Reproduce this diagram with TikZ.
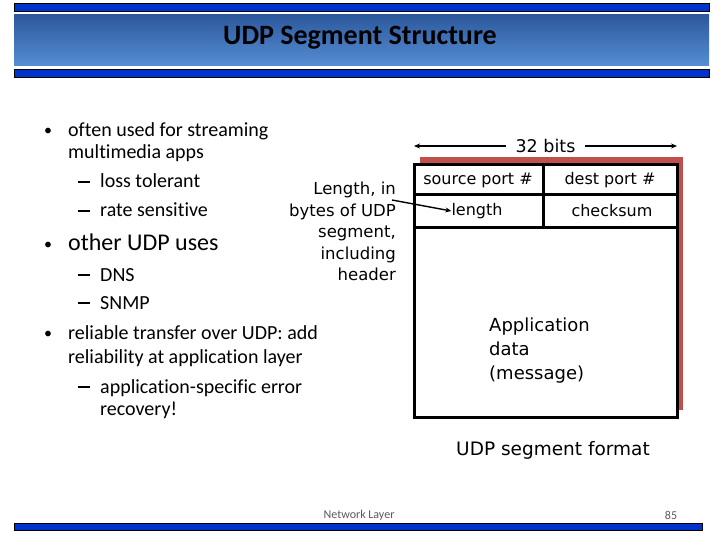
\documentclass[tikz,border=0pt]{standalone}
\usepackage{fontspec}
\setmainfont[Ligatures={NoCommon}]{Carlito}
\newfontfamily\comicfont{DejaVu Sans}
\usetikzlibrary{arrows.meta,positioning}
\definecolor{bandblue}{RGB}{0,51,204}
\definecolor{headtop}{RGB}{44,88,156}
\definecolor{headbot}{RGB}{86,142,212}
\definecolor{shadowred}{RGB}{192,80,77}
\definecolor{footgray}{RGB}{90,90,90}
\newcommand{\bul}{\makebox[24pt][l]{\raisebox{1pt}{\fontsize{16}{16}\selectfont•}}}
\newcommand{\dsh}{\makebox[22pt][l]{\rule[5.2pt]{12pt}{1.7pt}}}

\begin{document}
\begin{tikzpicture}[x=1pt,y=-1pt,
  >={Stealth[length=6pt,width=5pt]},
  band/.style={draw=black,fill=bandblue,line width=0.8pt},
  item/.style={anchor=base west,font=\fontsize{20}{24}\selectfont,inner sep=0pt},
  bigitem/.style={anchor=base west,font=\fontsize{24}{26}\selectfont,inner sep=0pt},
  field/.style={font=\comicfont\fontsize{16}{18}\selectfont,inner sep=0pt},
  note/.style={font=\comicfont\fontsize{16.5}{21.5}\selectfont,align=right,inner sep=0pt},
  foot/.style={font=\fontsize{12}{14}\selectfont,text=footgray,inner sep=0pt},
  frame/.style={line width=3pt}
]
\useasboundingbox (0,0) rectangle (720,540);
\fill[white] (0,0) rectangle (720,540);

% header
\draw[band] (14,3) rectangle (709,11);
\shade[top color=headtop,bottom color=headbot] (14,15) rectangle (709,66);
\draw[band] (14,69) rectangle (709,77);
\node[font=\fontsize{28}{30}\selectfont\bfseries] (title) at (360,38) {UDP Segment Structure};

% bullets on the left
\node[item] (t1) at (44,137) {\bul often used for streaming};
\node[item] (t1b) at (68,159) {multimedia apps};
\node[item] (s1) at (78,188) {\dsh loss tolerant};
\node[item] (s2) at (78,217) {\dsh rate sensitive};
\node[bigitem] (t2) at (44,250) {\bul other UDP uses};
\node[item] (s3) at (78,281) {\dsh DNS};
\node[item] (s4) at (78,309) {\dsh SNMP};
\node[item] (t3) at (44,339) {\bul reliable transfer over UDP: add};
\node[item] (t3b) at (68,363) {reliability at application layer};
\node[item] (s5) at (78,393) {\dsh application-specific error};
\node[item] (s5b) at (100,415) {recovery!};

% segment layout
\fill[shadowred] (420,157) rectangle (683,410);
\fill[white] (414,165) rectangle (677,417);
\draw[frame] (414,165) rectangle (677,417);
\draw[frame] (414,195) -- (677,195);
\draw[frame] (414,228) -- (677,228);
\draw[frame] (543,165) -- (543,228);

\node[field] (src) at (478,180) {source port \#};
\node[field] (dst) at (610,180) {dest port \#};
\node[field] (len) at (477,211) {length};
\node[field] (chk) at (612,211) {checksum};
\node[field,font=\comicfont\fontsize{18}{24}\selectfont,align=left,anchor=west] (msg) at (489,351) {Application\\data\\(message)};

\coordinate (wl) at (414,146);
\coordinate (wr) at (677,146);
\draw[<->,line width=1.6pt] (wl) -- (wr) node[midway,field,fill=white,inner xsep=10pt,font=\comicfont\fontsize{17.5}{19}\selectfont] (bits) {32 bits};

\node[note,anchor=north east] (lnote) at (396,182) {Length, in\\bytes of UDP\\segment,\\including\\header};
\coordinate (lfrom) at (392,200);
\draw[->,line width=1.4pt] (lfrom) -- (len.west);

\node[field,font=\comicfont\fontsize{18.5}{20}\selectfont] (cap) at (553,450) {UDP segment format};

% footer
\node[foot] (layer) at (359,515) {Network Layer};
\node[foot] (page) at (671,515) {85};
\draw[band] (14,523) rectangle (702,530);
\end{tikzpicture}
\end{document}
